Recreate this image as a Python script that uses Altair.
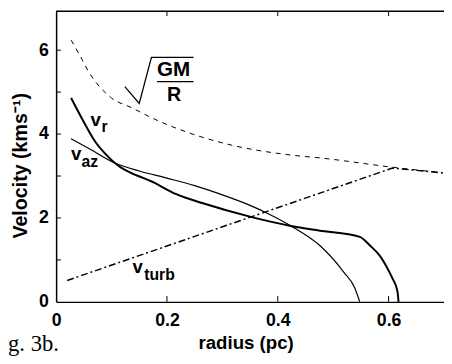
import altair as alt
import pandas as pd

# sqrt(GM/R) dashed curve
gm_x = [0.027, 0.041, 0.059, 0.100, 0.136, 0.177, 0.253, 0.294, 0.430, 0.477, 0.607, 0.697]
gm_y = [6.24, 5.92, 5.48, 4.86, 4.63, 4.36, 3.97, 3.81, 3.49, 3.43, 3.21, 3.08]

# v_r thick solid
vr_x = [0.027, 0.047, 0.071, 0.088, 0.106, 0.177, 0.218, 0.265, 0.353, 0.424, 0.474, 0.548,
        0.566, 0.584, 0.601, 0.607, 0.616, 0.618]
vr_y = [4.86, 4.36, 3.81, 3.54, 3.31, 2.84, 2.56, 2.35, 2.02, 1.81, 1.70, 1.55,
        1.35, 1.10, 0.72, 0.56, 0.25, 0.0]

# v_az thin solid
vaz_x = [0.027, 0.060, 0.106, 0.150, 0.200, 0.250, 0.300, 0.350, 0.380, 0.424, 0.477, 0.519, 0.539, 0.548]
vaz_y = [3.89, 3.65, 3.31, 3.12, 2.95, 2.77, 2.55, 2.30, 2.12, 1.81, 1.33, 0.71, 0.33, 0.0]

# v_turb dash-dot
vt_x = [0.020, 0.607, 0.700]
vt_y = [0.51, 3.19, 3.07]

x_ticks = [0.2, 0.4, 0.6]
x_labels = [0, 0.2, 0.4, 0.6]
y_ticks = [1, 2, 3, 4, 5, 6]
y_labels = [0, 2, 4, 6]

label_text = ["v", "r", "v", "az", "v", "turb", "GM", "R"]
label_x = [0.062, 0.082, 0.027, 0.046, 0.138, 0.159, 0.182, 0.200]
label_y = [4.20, 4.04, 3.38, 3.22, 0.68, 0.52, 5.38, 4.79]
label_size = [19, 16, 19, 16, 19, 16, 21, 20]

# radical sign and fraction bar of sqrt(GM/R)
rad_x = [0.124, 0.150, 0.172, 0.248]
rad_y = [5.13, 4.73, 5.83, 5.83]
bar_x = [0.182, 0.248]
bar_y = [5.25, 5.25]

fig_text = ["g. 3b."]
fig_x = [-0.0867]
fig_y = [-1.17]

XS = alt.Scale(domain=[0, 0.7], nice=False, zero=False)
YS = alt.Scale(domain=[0, 6.93], nice=False, zero=False)

x_axis = alt.Axis(values=x_labels, format=".1~f", title="radius (pc)", ticks=False, tickSize=0,
                  grid=False, domainColor="black", domainWidth=1.3, labelFlush=False,
                  labelPadding=24, labelBaseline="alphabetic", labelFontSize=18,
                  labelFontWeight="bold", labelFont="Liberation Sans", labelColor="black",
                  titleFontSize=19, titleFontWeight="bold", titleFont="Liberation Sans",
                  titleColor="black", titleX=193, titleY=48, titleBaseline="alphabetic",
                  titleAlign="center")
y_axis = alt.Axis(values=y_labels, title="Velocity (kms⁻¹)", ticks=False, tickSize=0,
                  grid=False, domainColor="black", domainWidth=1.5, labelFlush=False,
                  labelPadding=8, labelFontSize=18, labelFontWeight="bold",
                  labelFont="Liberation Sans", labelColor="black",
                  titleFontSize=20, titleFontWeight="bold", titleFont="Liberation Sans",
                  titleColor="black", titleX=-36, titleY=157, titleAngle=-90,
                  titleAlign="center", titleBaseline="middle")

xe = alt.X("x:Q", scale=XS, axis=x_axis)
ye = alt.Y("y:Q", scale=YS, axis=y_axis)


def df(xs, ys):
    return pd.DataFrame({"x": xs, "y": ys})


gm = alt.Chart(df(gm_x, gm_y)).mark_line(color="black", strokeWidth=1, strokeDash=[5, 5],
                                          interpolate="monotone").encode(x=xe, y=ye)
vr = alt.Chart(df(vr_x, vr_y)).mark_line(color="black", strokeWidth=2,
                                          interpolate="monotone").encode(x=xe, y=ye)
vaz = alt.Chart(df(vaz_x, vaz_y)).mark_line(color="black", strokeWidth=1.2,
                                             interpolate="monotone").encode(x=xe, y=ye)
vt = alt.Chart(df(vt_x, vt_y)).mark_line(color="black", strokeWidth=1.5,
                                          strokeDash=[7, 3, 2, 3]).encode(x=xe, y=ye)

rad = alt.Chart(df(rad_x, rad_y)).mark_line(color="black", strokeWidth=1.3).encode(x=xe, y=ye)
bar = alt.Chart(df(bar_x, bar_y)).mark_line(color="black", strokeWidth=1.5).encode(x=xe, y=ye)

labels = alt.Chart(pd.DataFrame({"x": label_x, "y": label_y, "t": label_text, "s": label_size})).mark_text(
    align="left", baseline="alphabetic", font="Liberation Sans", fontWeight="bold", color="black"
).encode(x=xe, y=ye, text="t:N", size=alt.Size("s:Q", scale=None, legend=None))

fig = alt.Chart(pd.DataFrame({"x": fig_x, "y": fig_y, "t": fig_text})).mark_text(
    align="left", baseline="alphabetic", font="Liberation Serif", fontSize=23, color="black"
).encode(x=xe, y=ye, text="t:N")

tick_df_x = pd.DataFrame({"x": x_ticks})
tick_df_y = pd.DataFrame({"y": y_ticks})
bottom_ticks = alt.Chart(tick_df_x).mark_rule(color="black", strokeWidth=1).encode(
    x=xe, y=alt.value(296), y2=alt.value(290))
top_ticks = alt.Chart(tick_df_x).mark_rule(color="black", strokeWidth=1).encode(
    x=xe, y=alt.value(0), y2=alt.value(5))
left_ticks = alt.Chart(tick_df_y).mark_rule(color="black", strokeWidth=1).encode(
    y=ye, x=alt.value(0), x2=alt.value(5))
top_border = alt.Chart(pd.DataFrame({"x": [0]})).mark_rule(color="black", strokeWidth=1.5).encode(
    x=alt.value(0), x2=alt.value(395), y=alt.value(0))

chart = alt.layer(gm, vr, vaz, vt, rad, bar, labels, fig, bottom_ticks, top_ticks, left_ticks,
                  top_border).properties(
    width=395, height=296,
    autosize=alt.AutoSizeParams(type="none"),
    padding={"left": 49, "top": 0, "right": 0, "bottom": 56},
    background="white",
).configure_view(stroke=None)

chart.save("out.html", embed_options={"renderer": "svg", "actions": False})
